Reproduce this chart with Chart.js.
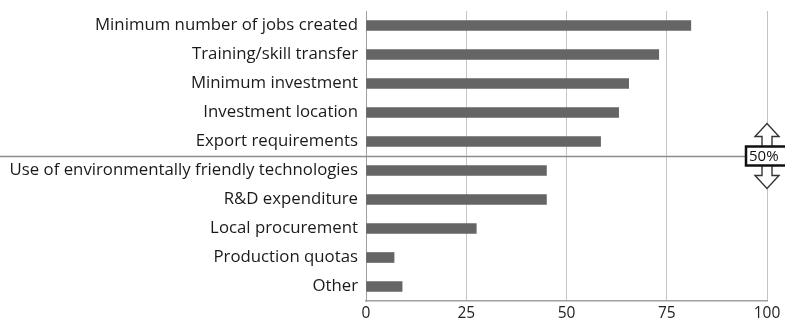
<!DOCTYPE html>
<html>
<head>
<meta charset="utf-8">
<script src="https://cdn.jsdelivr.net/npm/chart.js@4"></script>
<style>
  html, body { margin: 0; padding: 0; background: #fff; }
  #wrap { width: 785px; height: 321px; }
</style>
</head>
<body>
<div id="wrap"><canvas id="requirementsChart" width="785" height="321"></canvas></div>
<script>
const categories = [
  "Minimum number of jobs created",
  "Training/skill transfer",
  "Minimum investment",
  "Investment location",
  "Export requirements",
  "Use of environmentally friendly technologies",
  "R&D expenditure",
  "Local procurement",
  "Production quotas",
  "Other"
];
const shares = [81, 73, 65.5, 63, 58.5, 45, 45, 27.5, 7, 9];
const xTicks = [0, 25, 50, 75, 100];

// 50% threshold sits between "Export requirements" and the next row
const thresholdLabel = "50%";
const thresholdAfter = 4;

const FONT = "'Open Sans', 'Noto Sans', sans-serif";

/* threshold line, box and arrows */
const thresholdPlugin = {
  id: "threshold",
  afterDraw(chart) {
    const { ctx, scales } = chart;
    const y = Math.round(scales.y.getPixelForValue(thresholdAfter + 0.5)) + 0.5;
    const cx = scales.x.getPixelForValue(100);
    const boxL = cx - 21, boxR = cx + 24, boxT = y - 10, boxB = y + 9;

    ctx.save();
    ctx.strokeStyle = "#8c8c8c";
    ctx.lineWidth = 1.5;
    ctx.beginPath();
    ctx.moveTo(0, y);
    ctx.lineTo(boxL, y);
    ctx.stroke();

    // hollow arrows
    function arrow(dir) {
      const base = dir < 0 ? boxT : boxB;
      const shaft = 10, head = 13, hw = 5, hh = 12;
      ctx.beginPath();
      ctx.moveTo(cx - hw, base);
      ctx.lineTo(cx - hw, base + dir * shaft);
      ctx.lineTo(cx - hh, base + dir * shaft);
      ctx.lineTo(cx, base + dir * (shaft + head));
      ctx.lineTo(cx + hh, base + dir * shaft);
      ctx.lineTo(cx + hw, base + dir * shaft);
      ctx.lineTo(cx + hw, base);
      ctx.fillStyle = "#fff";
      ctx.fill();
      ctx.strokeStyle = "#333";
      ctx.lineWidth = 1.4;
      ctx.stroke();
    }
    arrow(-1);
    arrow(1);

    ctx.fillStyle = "#fff";
    ctx.fillRect(boxL, boxT, boxR - boxL, boxB - boxT);
    ctx.strokeStyle = "#111";
    ctx.lineWidth = 2.5;
    ctx.strokeRect(boxL, boxT, boxR - boxL, boxB - boxT);
    ctx.fillStyle = "#111";
    ctx.font = "15px " + FONT;
    ctx.textAlign = "left";
    ctx.textBaseline = "middle";
    ctx.fillText(thresholdLabel, boxL + 3, y);
    ctx.restore();
  }
};

new Chart(document.getElementById("requirementsChart"), {
  type: "bar",
  data: {
    labels: categories,
    datasets: [{
      data: shares,
      backgroundColor: "#656565",
      borderWidth: 0,
      barThickness: 10
    }]
  },
  options: {
    indexAxis: "y",
    responsive: false,
    animation: false,
    layout: { padding: { top: 11, right: 18, left: 0, bottom: 0 } },
    plugins: {
      legend: { display: false },
      tooltip: { enabled: false }
    },
    scales: {
      x: {
        min: 0,
        max: 100,
        afterBuildTicks: scale => { scale.ticks = xTicks.map(v => ({ value: v })); },
        afterFit: scale => { scale.height = 20; },
        grid: { color: "#c4c4c4", lineWidth: 1, drawTicks: false },
        border: { color: "#a0a0a0", width: 1.5 },
        ticks: { color: "#222", padding: 3, font: { family: FONT, size: 15.5 } }
      },
      y: {
        afterFit: scale => {
          scale.width = 366;
          scale.paddingTop = 0;
          scale.paddingBottom = 0;
        },
        grid: { display: false, drawTicks: false },
        border: { color: "#a0a0a0", width: 1 },
        ticks: { color: "#1a1a1a", padding: 8, font: { family: FONT, size: 16.8 } }
      }
    }
  },
  plugins: [thresholdPlugin]
});
</script>
</body>
</html>
